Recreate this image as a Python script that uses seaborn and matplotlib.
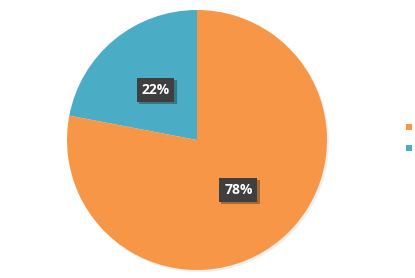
import matplotlib
matplotlib.use("Agg")
import matplotlib.pyplot as plt
import matplotlib.patheffects as pe
from matplotlib.lines import Line2D
import seaborn as sns

categories = ["Series B", "Series A"]
values = [22, 78]
colors = ["#4BACC6", "#F79646"]

sns.set_theme(style="white")
plt.rcParams['font.family'] = ['Open Sans', 'DejaVu Sans']

W, H = 415, 278
fig = plt.figure(figsize=(W / 100, H / 100), dpi=100)
cx, cy, r = 197, 140, 130
ax = fig.add_axes([(cx - r) / W, (H - cy - r) / H, 2 * r / W, 2 * r / H])

wedges, texts, autotexts = ax.pie(
    values, colors=colors, startangle=90, counterclock=True,
    autopct=lambda p: f"{p:.0f}%", pctdistance=0.5, radius=1,
    wedgeprops=dict(linewidth=0),
    textprops=dict(color="white", fontsize=10, fontweight="bold"),
)
for w in wedges:
    w.set_path_effects([pe.SimplePatchShadow(offset=(1.5, -1.5), alpha=0.12, shadow_rgbFace="gray"), pe.Normal()])
for t in autotexts:
    t.set_bbox(dict(boxstyle="square,pad=0.35", fc="#3F3F3F", ec="none"))
    t.get_bbox_patch().set_path_effects([pe.SimplePatchShadow(offset=(1.5, -1.5), alpha=0.35), pe.Normal()])
ax.set_xlim(-1, 1)
ax.set_ylim(-1, 1)
ax.set_aspect("equal")

handles = [Line2D([0], [0], marker="s", linestyle="none", markersize=4.5,
                  markerfacecolor=colors[1], markeredgewidth=0),
           Line2D([0], [0], marker="s", linestyle="none", markersize=4.5,
                  markerfacecolor=colors[0], markeredgewidth=0)]
fig.legend(handles, ["", ""], loc="center left", fontsize=8,
           bbox_to_anchor=(398.5 / W, 1 - 139 / H), frameon=False,
           handlelength=0.8, handletextpad=0.0, labelspacing=0.96, borderpad=0)

fig.savefig("out.png", dpi=100)
